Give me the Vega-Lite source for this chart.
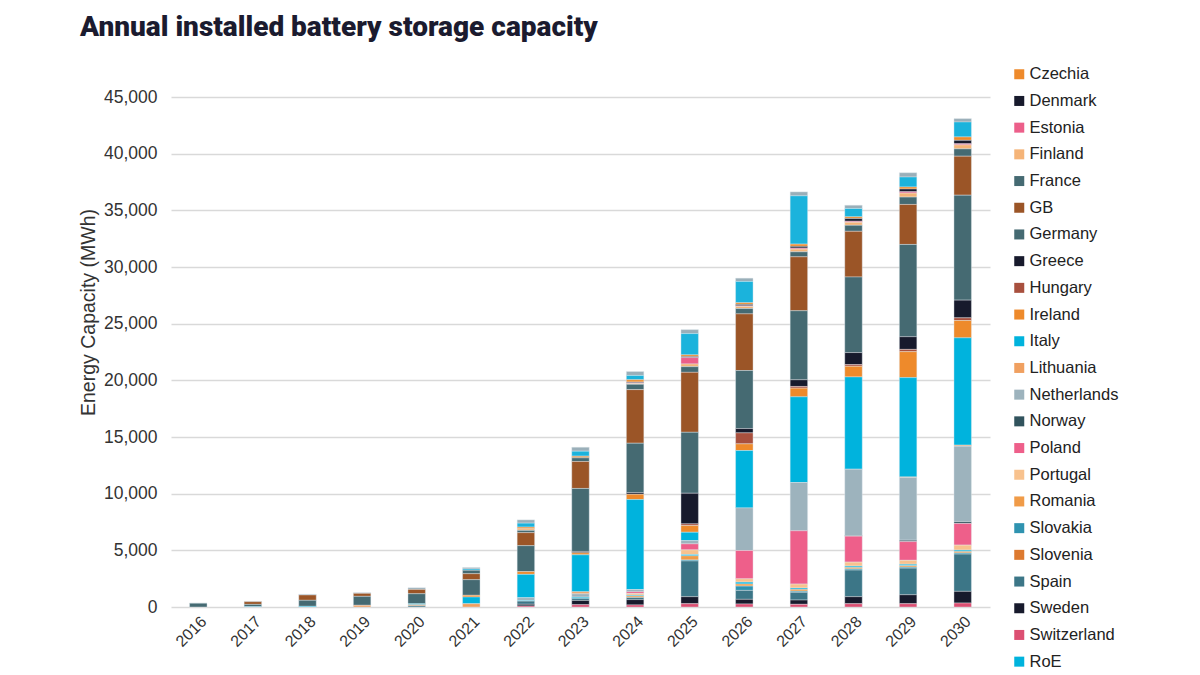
{
  "$schema": "https://vega.github.io/schema/vega-lite/v6.json",
  "autosize": "none",
  "width": 819,
  "height": 510,
  "padding": {"left": 171, "top": 97, "right": 210, "bottom": 68},
  "background": "white",
  "title": {
    "text": "Annual installed battery storage capacity",
    "anchor": "start",
    "frame": "group",
    "orient": "top",
    "dx": -91,
    "offset": 24,
    "font": "Roboto",
    "fontSize": 28,
    "fontWeight": 900,
    "color": "#1B1B2F"
  },
  "config": {
    "view": {"stroke": null},
    "font": "Liberation Sans"
  },
  "data": {
    "values": [
      {"year": "2016", "country": "Austria", "value": 20},
      {"year": "2016", "country": "Germany", "value": 330},
      {"year": "2017", "country": "Austria", "value": 30},
      {"year": "2017", "country": "GB", "value": 240},
      {"year": "2017", "country": "Germany", "value": 200},
      {"year": "2017", "country": "RoE", "value": 30},
      {"year": "2018", "country": "Austria", "value": 60},
      {"year": "2018", "country": "GB", "value": 470},
      {"year": "2018", "country": "Germany", "value": 530},
      {"year": "2018", "country": "RoE", "value": 60},
      {"year": "2019", "country": "Austria", "value": 60},
      {"year": "2019", "country": "GB", "value": 265},
      {"year": "2019", "country": "Germany", "value": 790},
      {"year": "2019", "country": "Lithuania", "value": 150},
      {"year": "2020", "country": "Austria", "value": 150},
      {"year": "2020", "country": "GB", "value": 380},
      {"year": "2020", "country": "Germany", "value": 880},
      {"year": "2020", "country": "Italy", "value": 90},
      {"year": "2020", "country": "Lithuania", "value": 100},
      {"year": "2020", "country": "Spain", "value": 100},
      {"year": "2021", "country": "Austria", "value": 120},
      {"year": "2021", "country": "Belgium", "value": 120},
      {"year": "2021", "country": "France", "value": 300},
      {"year": "2021", "country": "GB", "value": 530},
      {"year": "2021", "country": "Germany", "value": 1380},
      {"year": "2021", "country": "Ireland", "value": 150},
      {"year": "2021", "country": "Italy", "value": 590},
      {"year": "2021", "country": "Lithuania", "value": 290},
      {"year": "2022", "country": "Austria", "value": 290},
      {"year": "2022", "country": "Belgium", "value": 350},
      {"year": "2022", "country": "Czechia", "value": 150},
      {"year": "2022", "country": "Finland", "value": 140},
      {"year": "2022", "country": "France", "value": 200},
      {"year": "2022", "country": "GB", "value": 1150},
      {"year": "2022", "country": "Germany", "value": 2290},
      {"year": "2022", "country": "Ireland", "value": 240},
      {"year": "2022", "country": "Italy", "value": 2060},
      {"year": "2022", "country": "Netherlands", "value": 240},
      {"year": "2022", "country": "Spain", "value": 290},
      {"year": "2022", "country": "Sweden", "value": 150},
      {"year": "2022", "country": "Switzerland", "value": 90},
      {"year": "2022", "country": "RoE", "value": 50},
      {"year": "2023", "country": "Austria", "value": 350},
      {"year": "2023", "country": "Belgium", "value": 440},
      {"year": "2023", "country": "Czechia", "value": 150},
      {"year": "2023", "country": "France", "value": 320},
      {"year": "2023", "country": "GB", "value": 2380},
      {"year": "2023", "country": "Germany", "value": 5560},
      {"year": "2023", "country": "Greece", "value": 120},
      {"year": "2023", "country": "Ireland", "value": 180},
      {"year": "2023", "country": "Italy", "value": 3260},
      {"year": "2023", "country": "Lithuania", "value": 180},
      {"year": "2023", "country": "Netherlands", "value": 290},
      {"year": "2023", "country": "Spain", "value": 200},
      {"year": "2023", "country": "Sweden", "value": 380},
      {"year": "2023", "country": "Switzerland", "value": 200},
      {"year": "2023", "country": "RoE", "value": 90},
      {"year": "2024", "country": "Austria", "value": 350},
      {"year": "2024", "country": "Belgium", "value": 380},
      {"year": "2024", "country": "Czechia", "value": 200},
      {"year": "2024", "country": "Denmark", "value": 70},
      {"year": "2024", "country": "Estonia", "value": 60},
      {"year": "2024", "country": "Finland", "value": 70},
      {"year": "2024", "country": "France", "value": 470},
      {"year": "2024", "country": "GB", "value": 4730},
      {"year": "2024", "country": "Germany", "value": 4350},
      {"year": "2024", "country": "Greece", "value": 150},
      {"year": "2024", "country": "Ireland", "value": 470},
      {"year": "2024", "country": "Italy", "value": 7940},
      {"year": "2024", "country": "Netherlands", "value": 200},
      {"year": "2024", "country": "Poland", "value": 150},
      {"year": "2024", "country": "Portugal", "value": 150},
      {"year": "2024", "country": "Romania", "value": 150},
      {"year": "2024", "country": "Spain", "value": 180},
      {"year": "2024", "country": "Sweden", "value": 470},
      {"year": "2024", "country": "Switzerland", "value": 180},
      {"year": "2024", "country": "RoE", "value": 60},
      {"year": "2025", "country": "Austria", "value": 350},
      {"year": "2025", "country": "Belgium", "value": 1880},
      {"year": "2025", "country": "Czechia", "value": 150},
      {"year": "2025", "country": "Denmark", "value": 90},
      {"year": "2025", "country": "Estonia", "value": 560},
      {"year": "2025", "country": "Finland", "value": 240},
      {"year": "2025", "country": "France", "value": 500},
      {"year": "2025", "country": "GB", "value": 5290},
      {"year": "2025", "country": "Germany", "value": 5380},
      {"year": "2025", "country": "Greece", "value": 2700},
      {"year": "2025", "country": "Hungary", "value": 150},
      {"year": "2025", "country": "Ireland", "value": 590},
      {"year": "2025", "country": "Italy", "value": 735},
      {"year": "2025", "country": "Netherlands", "value": 290},
      {"year": "2025", "country": "Poland", "value": 530},
      {"year": "2025", "country": "Portugal", "value": 410},
      {"year": "2025", "country": "Romania", "value": 380},
      {"year": "2025", "country": "Slovakia", "value": 90},
      {"year": "2025", "country": "Spain", "value": 3150},
      {"year": "2025", "country": "Sweden", "value": 620},
      {"year": "2025", "country": "Switzerland", "value": 290},
      {"year": "2025", "country": "RoE", "value": 100},
      {"year": "2026", "country": "Austria", "value": 290},
      {"year": "2026", "country": "Belgium", "value": 1880},
      {"year": "2026", "country": "Czechia", "value": 150},
      {"year": "2026", "country": "Denmark", "value": 120},
      {"year": "2026", "country": "Estonia", "value": 60},
      {"year": "2026", "country": "Finland", "value": 180},
      {"year": "2026", "country": "France", "value": 470},
      {"year": "2026", "country": "GB", "value": 5000},
      {"year": "2026", "country": "Germany", "value": 5120},
      {"year": "2026", "country": "Greece", "value": 380},
      {"year": "2026", "country": "Hungary", "value": 970},
      {"year": "2026", "country": "Ireland", "value": 590},
      {"year": "2026", "country": "Italy", "value": 5060},
      {"year": "2026", "country": "Netherlands", "value": 3760},
      {"year": "2026", "country": "Poland", "value": 2500},
      {"year": "2026", "country": "Portugal", "value": 290},
      {"year": "2026", "country": "Romania", "value": 200},
      {"year": "2026", "country": "Slovakia", "value": 380},
      {"year": "2026", "country": "Spain", "value": 790},
      {"year": "2026", "country": "Sweden", "value": 410},
      {"year": "2026", "country": "Switzerland", "value": 265},
      {"year": "2026", "country": "RoE", "value": 150},
      {"year": "2027", "country": "Austria", "value": 350},
      {"year": "2027", "country": "Belgium", "value": 4260},
      {"year": "2027", "country": "Czechia", "value": 200},
      {"year": "2027", "country": "Denmark", "value": 150},
      {"year": "2027", "country": "Estonia", "value": 90},
      {"year": "2027", "country": "Finland", "value": 240},
      {"year": "2027", "country": "France", "value": 440},
      {"year": "2027", "country": "GB", "value": 4760},
      {"year": "2027", "country": "Germany", "value": 6090},
      {"year": "2027", "country": "Greece", "value": 590},
      {"year": "2027", "country": "Hungary", "value": 150},
      {"year": "2027", "country": "Ireland", "value": 765},
      {"year": "2027", "country": "Italy", "value": 7560},
      {"year": "2027", "country": "Netherlands", "value": 4260},
      {"year": "2027", "country": "Poland", "value": 4700},
      {"year": "2027", "country": "Portugal", "value": 350},
      {"year": "2027", "country": "Romania", "value": 180},
      {"year": "2027", "country": "Slovakia", "value": 100},
      {"year": "2027", "country": "Spain", "value": 680},
      {"year": "2027", "country": "Sweden", "value": 380},
      {"year": "2027", "country": "Switzerland", "value": 235},
      {"year": "2027", "country": "RoE", "value": 100},
      {"year": "2028", "country": "Austria", "value": 290},
      {"year": "2028", "country": "Belgium", "value": 735},
      {"year": "2028", "country": "Czechia", "value": 150},
      {"year": "2028", "country": "Denmark", "value": 240},
      {"year": "2028", "country": "Estonia", "value": 90},
      {"year": "2028", "country": "Finland", "value": 265},
      {"year": "2028", "country": "France", "value": 530},
      {"year": "2028", "country": "GB", "value": 4030},
      {"year": "2028", "country": "Germany", "value": 6670},
      {"year": "2028", "country": "Greece", "value": 1060},
      {"year": "2028", "country": "Hungary", "value": 150},
      {"year": "2028", "country": "Ireland", "value": 940},
      {"year": "2028", "country": "Italy", "value": 8140},
      {"year": "2028", "country": "Netherlands", "value": 5850},
      {"year": "2028", "country": "Norway", "value": 60},
      {"year": "2028", "country": "Poland", "value": 2290},
      {"year": "2028", "country": "Portugal", "value": 350},
      {"year": "2028", "country": "Romania", "value": 150},
      {"year": "2028", "country": "Slovakia", "value": 100},
      {"year": "2028", "country": "Spain", "value": 2350},
      {"year": "2028", "country": "Sweden", "value": 620},
      {"year": "2028", "country": "Switzerland", "value": 290},
      {"year": "2028", "country": "RoE", "value": 100},
      {"year": "2029", "country": "Austria", "value": 380},
      {"year": "2029", "country": "Belgium", "value": 880},
      {"year": "2029", "country": "Czechia", "value": 180},
      {"year": "2029", "country": "Denmark", "value": 240},
      {"year": "2029", "country": "Estonia", "value": 120},
      {"year": "2029", "country": "Finland", "value": 350},
      {"year": "2029", "country": "France", "value": 650},
      {"year": "2029", "country": "GB", "value": 3530},
      {"year": "2029", "country": "Germany", "value": 8140},
      {"year": "2029", "country": "Greece", "value": 1120},
      {"year": "2029", "country": "Hungary", "value": 200},
      {"year": "2029", "country": "Ireland", "value": 2290},
      {"year": "2029", "country": "Italy", "value": 8760},
      {"year": "2029", "country": "Lithuania", "value": 60},
      {"year": "2029", "country": "Netherlands", "value": 5530},
      {"year": "2029", "country": "Norway", "value": 120},
      {"year": "2029", "country": "Poland", "value": 1650},
      {"year": "2029", "country": "Portugal", "value": 350},
      {"year": "2029", "country": "Romania", "value": 150},
      {"year": "2029", "country": "Slovakia", "value": 90},
      {"year": "2029", "country": "Spain", "value": 2350},
      {"year": "2029", "country": "Sweden", "value": 790},
      {"year": "2029", "country": "Switzerland", "value": 290},
      {"year": "2029", "country": "RoE", "value": 100},
      {"year": "2030", "country": "Austria", "value": 300},
      {"year": "2030", "country": "Belgium", "value": 1320},
      {"year": "2030", "country": "Czechia", "value": 300},
      {"year": "2030", "country": "Denmark", "value": 300},
      {"year": "2030", "country": "Estonia", "value": 100},
      {"year": "2030", "country": "Finland", "value": 350},
      {"year": "2030", "country": "France", "value": 650},
      {"year": "2030", "country": "GB", "value": 3440},
      {"year": "2030", "country": "Germany", "value": 9260},
      {"year": "2030", "country": "Greece", "value": 1560},
      {"year": "2030", "country": "Hungary", "value": 235},
      {"year": "2030", "country": "Ireland", "value": 1530},
      {"year": "2030", "country": "Italy", "value": 9470},
      {"year": "2030", "country": "Lithuania", "value": 90},
      {"year": "2030", "country": "Netherlands", "value": 6670},
      {"year": "2030", "country": "Norway", "value": 150},
      {"year": "2030", "country": "Poland", "value": 1910},
      {"year": "2030", "country": "Portugal", "value": 440},
      {"year": "2030", "country": "Romania", "value": 150},
      {"year": "2030", "country": "Slovakia", "value": 100},
      {"year": "2030", "country": "Spain", "value": 3290},
      {"year": "2030", "country": "Sweden", "value": 1030},
      {"year": "2030", "country": "Switzerland", "value": 350},
      {"year": "2030", "country": "RoE", "value": 100}
    ]
  },
  "mark": {"type": "bar", "stroke": "#E3ECEF", "strokeWidth": 0.4},
  "encoding": {
    "x": {
      "field": "year",
      "type": "ordinal",
      "scale": {"paddingInner": 0.68, "paddingOuter": 0.34},
      "axis": {
        "title": null,
        "labelAngle": -45,
        "labelFontSize": 16,
        "labelColor": "#333333",
        "labelPadding": 6,
        "ticks": false,
        "domain": false,
        "grid": false
      }
    },
    "y": {
      "field": "value",
      "type": "quantitative",
      "aggregate": "sum",
      "stack": "zero",
      "scale": {"domain": [0, 45000], "nice": false},
      "axis": {
        "title": "Energy Capacity (MWh)",
        "titleFontSize": 19.5,
        "titleFontWeight": "normal",
        "titleColor": "#333333",
        "titleX": -83,
        "titleY": 215,
        "titleAngle": -90,
        "titleAlign": "center",
        "titleBaseline": "middle",
        "values": [0, 5000, 10000, 15000, 20000, 25000, 30000, 35000, 40000, 45000],
        "format": ",.0f",
        "labelFontSize": 17.5,
        "labelColor": "#333333",
        "labelPadding": 14,
        "ticks": false,
        "domain": false,
        "gridColor": "#D9D9D9",
        "gridWidth": 1.5
      }
    },
    "color": {
      "field": "country",
      "type": "nominal",
      "sort": ["Austria", "Belgium", "Czechia", "Denmark", "Estonia", "Finland", "France", "GB", "Germany", "Greece", "Hungary", "Ireland", "Italy", "Lithuania", "Netherlands", "Norway", "Poland", "Portugal", "Romania", "Slovakia", "Slovenia", "Spain", "Sweden", "Switzerland", "RoE"],
      "scale": {
        "domain": ["Austria", "Belgium", "Czechia", "Denmark", "Estonia", "Finland", "France", "GB", "Germany", "Greece", "Hungary", "Ireland", "Italy", "Lithuania", "Netherlands", "Norway", "Poland", "Portugal", "Romania", "Slovakia", "Slovenia", "Spain", "Sweden", "Switzerland", "RoE"],
        "range": ["#9AAFB9", "#1BB3DC", "#EE8A2B", "#171A2C", "#EC5F8A", "#F5B478", "#456A72", "#9B5527", "#456A72", "#171A2C", "#A8503E", "#EE8A2B", "#00B3DD", "#F0A060", "#9DB3BD", "#31535D", "#EE5F8A", "#F8C28E", "#F09B48", "#2F93B0", "#DD7A30", "#3C7687", "#171A2C", "#DC4F72", "#00B3DD"]
      },
      "legend": {
        "title": null,
        "values": ["Czechia", "Denmark", "Estonia", "Finland", "France", "GB", "Germany", "Greece", "Hungary", "Ireland", "Italy", "Lithuania", "Netherlands", "Norway", "Poland", "Portugal", "Romania", "Slovakia", "Slovenia", "Spain", "Sweden", "Switzerland", "RoE"],
        "orient": "none",
        "legendX": 840,
        "legendY": -31,
        "padding": 0,
        "symbolType": "square",
        "symbolSize": 100,
        "symbolStrokeWidth": 0,
        "labelFontSize": 16.5,
        "labelColor": "#222222",
        "labelOffset": 2,
        "rowPadding": 9.7,
        "labelLimit": 200
      }
    }
  }
}
